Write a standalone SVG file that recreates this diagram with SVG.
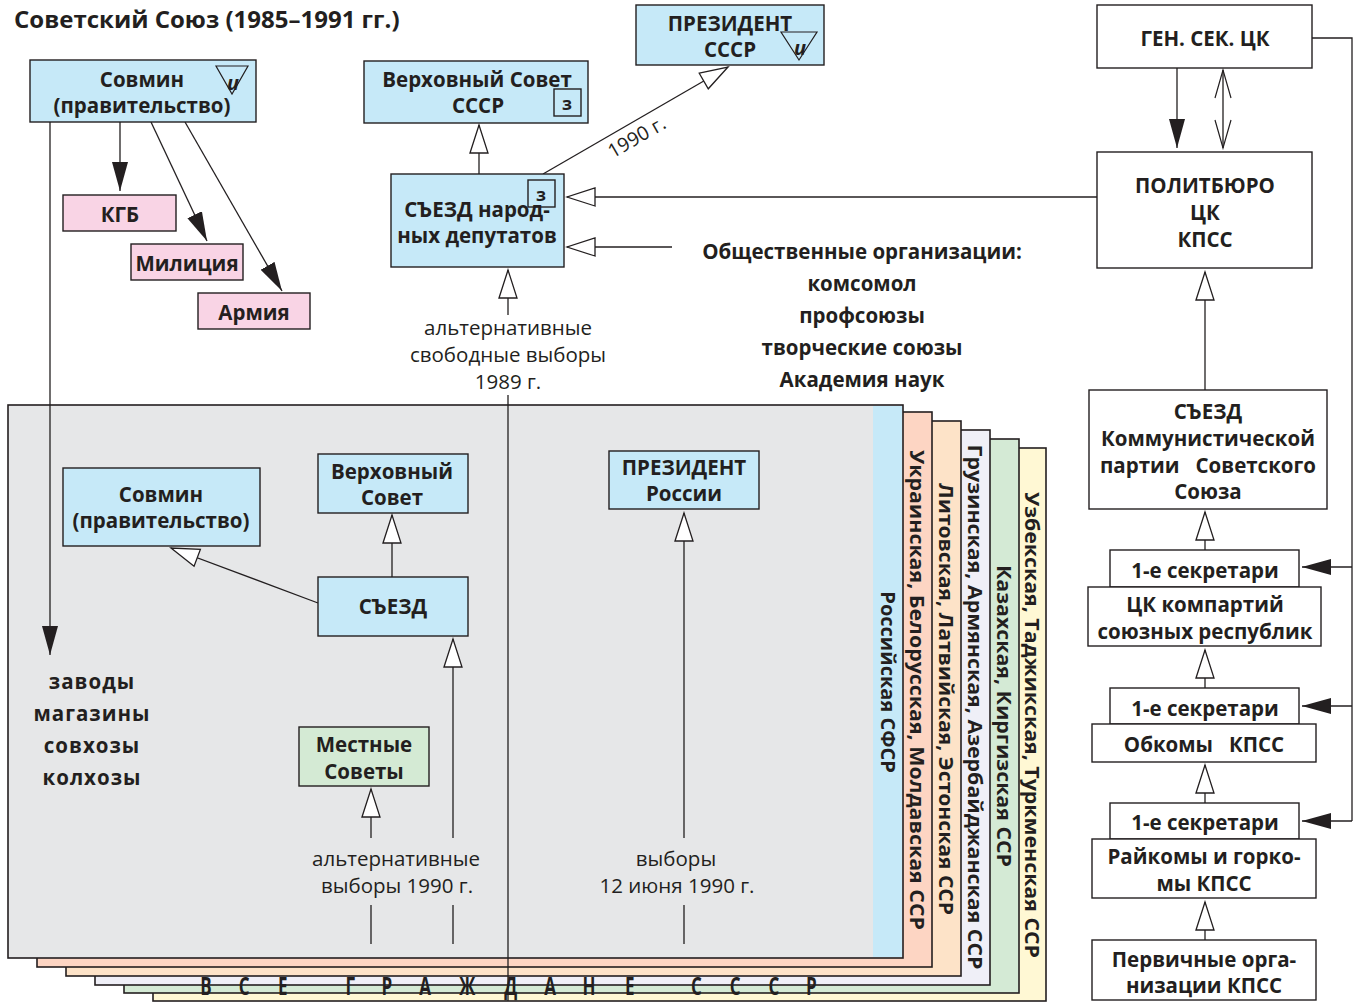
<svg xmlns="http://www.w3.org/2000/svg" width="1353" height="1002" viewBox="0 0 1353 1002">
<style>
.b{font-family:"Open Sans","Noto Sans",sans-serif;font-weight:700;font-size:20.5px;fill:#231f20;text-anchor:middle}
.r{font-family:"Open Sans","Noto Sans",sans-serif;font-weight:400;font-size:20.5px;fill:#231f20;text-anchor:middle}
.v{font-family:"Open Sans","Noto Sans",sans-serif;font-weight:700;font-size:20px;fill:#231f20;text-anchor:middle}
.bx{stroke:#231f20;stroke-width:1.4}
.blue{fill:#c6e9f8}.pink{fill:#f9d4e5}.grn{fill:#d4ead4}.wh{fill:#fff}
.ln{fill:none;stroke:#231f20;stroke-width:1.3}
.ly{stroke:#231f20;stroke-width:1.6}
</style>
<defs>
<marker id="fa" markerUnits="userSpaceOnUse" markerWidth="30" markerHeight="18" viewBox="0 0 30 18" refX="29" refY="9" orient="auto"><path d="M0,1 L29,9 L0,17 z" fill="#231f20"/></marker>
<marker id="oa" markerUnits="userSpaceOnUse" markerWidth="32" markerHeight="22" viewBox="-2 -2 32 22" refX="28" refY="9" orient="auto"><path d="M0,0 L28,9 L0,18 z" fill="#fff" stroke="#231f20" stroke-width="1.3"/></marker>
<marker id="ch" markerUnits="userSpaceOnUse" markerWidth="32" markerHeight="22" viewBox="-2 -2 32 22" refX="28" refY="9" orient="auto-start-reverse"><path d="M0,1 L28,9 L0,17" fill="none" stroke="#231f20" stroke-width="1.2"/></marker>
</defs>
<rect width="1353" height="1002" fill="#fff"/>

<text x="14" y="28" class="b" style="text-anchor:start;font-size:24px">Советский Союз (1985–1991 гг.)</text>

<g id="republics">
<rect x="153" y="448" width="893" height="553" fill="#fff8d4" class="ly"/>
<rect x="124" y="439" width="895" height="554" fill="#d4ead5" class="ly"/>
<rect x="95" y="430" width="895" height="555" fill="#efeff7" class="ly"/>
<rect x="66" y="421" width="895" height="555" fill="#fde3c8" class="ly"/>
<rect x="37" y="412" width="895" height="555" fill="#fdd5c3" class="ly"/>
<rect x="8" y="405" width="895" height="553" fill="#e6e7e8" class="ly"/>
<rect x="873" y="406" width="29" height="551" fill="#c6e9f8"/>
<text class="v" transform="translate(888,682) rotate(90)" dy="0.35em">Российская СФСР</text>
<text class="v" transform="translate(917,690) rotate(90)" dy="0.35em" textLength="480" lengthAdjust="spacingAndGlyphs">Украинская, Белорусская, Молдавская ССР</text>
<text class="v" transform="translate(946,699) rotate(90)" dy="0.35em" textLength="432" lengthAdjust="spacingAndGlyphs">Литовская, Латвийская, Эстонская ССР</text>
<text class="v" transform="translate(975,707) rotate(90)" dy="0.35em" textLength="525" lengthAdjust="spacingAndGlyphs">Грузинская, Армянская, Азербайджанская ССР</text>
<text class="v" transform="translate(1004,716) rotate(90)" dy="0.35em" textLength="302" lengthAdjust="spacingAndGlyphs">Казахская, Киргизская ССР</text>
<text class="v" transform="translate(1032,725) rotate(90)" dy="0.35em" textLength="466" lengthAdjust="spacingAndGlyphs">Узбекская, Таджикская, Туркменская ССР</text>
<text class="v" transform="scale(0.68 1)" style="font-size:25px" y="995" x="303 359 416 515 569 625 687 751 809 866 926 1024 1081 1138 1193">ВСЕГРАЖДАНЕСССР</text>
</g>

<g id="connectors">
<path class="ln" d="M120,122 V191" marker-end="url(#fa)"/>
<path class="ln" d="M151,122 L207,241" marker-end="url(#fa)"/>
<path class="ln" d="M185,122 L282,291" marker-end="url(#fa)"/>
<path class="ln" d="M50,122 V655" marker-end="url(#fa)"/>
<path class="ln" d="M479,174 V125" marker-end="url(#oa)"/>
<path class="ln" d="M543,174 L728,67" marker-end="url(#oa)"/>
<path class="ln" d="M1097,197 H567" marker-end="url(#oa)"/>
<path class="ln" d="M672,247 H567" marker-end="url(#oa)"/>
<path class="ln" d="M508,315 V270" marker-end="url(#oa)"/>
<path class="ln" d="M508,395 V1001"/>
<path class="ln" d="M1177,68 V148" marker-end="url(#fa)"/>
<path class="ln" d="M1223,70 V148" marker-start="url(#ch)" marker-end="url(#ch)"/>
<path class="ln" d="M1312,38 H1352 V821"/>
<path class="ln" d="M1352,567 H1302" marker-end="url(#fa)"/>
<path class="ln" d="M1352,706 H1302" marker-end="url(#fa)"/>
<path class="ln" d="M1352,821 H1302" marker-end="url(#fa)"/>
<path class="ln" d="M1205,390 V272" marker-end="url(#oa)"/>
<path class="ln" d="M1205,550 V512" marker-end="url(#oa)"/>
<path class="ln" d="M1205,688 V650" marker-end="url(#oa)"/>
<path class="ln" d="M1205,803 V765" marker-end="url(#oa)"/>
<path class="ln" d="M1205,940 V902" marker-end="url(#oa)"/>
<path class="ln" d="M392,577 V515" marker-end="url(#oa)"/>
<path class="ln" d="M318,603 L171,548" marker-end="url(#oa)"/>
<path class="ln" d="M453,838 V639" marker-end="url(#oa)"/>
<path class="ln" d="M371,838 V789" marker-end="url(#oa)"/>
<path class="ln" d="M684,838 V513" marker-end="url(#oa)"/>
<path class="ln" d="M371,905 V944 M453,905 V944 M684,905 V944"/>
<text class="r" transform="translate(640,143) rotate(-30)" style="font-size:19.5px">1990 г.</text>
</g>

<g id="sovmin">
<rect x="30" y="60" width="226" height="62" class="bx blue"/>
<text class="b" x="142" y="87">Совмин</text>
<text class="b" x="142" y="113">(правительство)</text>
<path d="M216,66 H248 L232,94 z" fill="none" stroke="#231f20" stroke-width="1.2"/>
<text class="b" x="233" y="90" style="font-style:italic;font-size:20px">и</text>
</g>
<g id="kgb"><rect x="63" y="195" width="113" height="36" class="bx pink"/><text class="b" x="120" y="222">КГБ</text></g>
<g id="militsiya"><rect x="131" y="244" width="112" height="36" class="bx pink"/><text class="b" x="187" y="271">Милиция</text></g>
<g id="armiya"><rect x="198" y="293" width="112" height="36" class="bx pink"/><text class="b" x="254" y="320">Армия</text></g>

<g id="verkhovny-sovet-sssr">
<rect x="364" y="61" width="224" height="62" class="bx blue"/>
<text class="b" x="477" y="87">Верховный Совет</text>
<text class="b" x="478" y="113">СССР</text>
<rect x="554" y="89" width="27" height="27" fill="none" class="bx"/>
<text class="b" x="567" y="110" style="font-size:18px">з</text>
</g>
<g id="prezident-sssr">
<rect x="636" y="5" width="188" height="60" class="bx blue"/>
<text class="b" x="730" y="31">ПРЕЗИДЕНТ</text>
<text class="b" x="730" y="57">СССР</text>
<path d="M781,32 H817 L799,60 z" fill="none" stroke="#231f20" stroke-width="1.2"/>
<text class="b" x="800" y="55" style="font-style:italic;font-size:20px">и</text>
</g>
<g id="sezd-nd">
<rect x="391" y="174" width="173" height="93" class="bx blue"/>
<text class="b" x="477" y="217">СЪЕЗД народ-</text>
<text class="b" x="477" y="243">ных депутатов</text>
<rect x="528" y="180" width="27" height="27" fill="none" class="bx"/>
<text class="b" x="541" y="201" style="font-size:18px">з</text>
</g>
<g id="elections-1989">
<text class="r" x="508" y="335">альтернативные</text>
<text class="r" x="508" y="362">свободные выборы</text>
<text class="r" x="508" y="389">1989 г.</text>
</g>
<g id="obshchestvennye">
<text class="b" x="862" y="259">Общественные организации:</text>
<text class="b" x="862" y="291">комсомол</text>
<text class="b" x="862" y="323">профсоюзы</text>
<text class="b" x="862" y="355">творческие союзы</text>
<text class="b" x="862" y="387">Академия наук</text>
</g>

<g id="gensek"><rect x="1097" y="5" width="215" height="63" class="bx wh"/><text class="b" x="1205" y="46">ГЕН. СЕК. ЦК</text></g>
<g id="politburo"><rect x="1097" y="152" width="215" height="116" class="bx wh"/>
<text class="b" x="1205" y="193">ПОЛИТБЮРО</text><text class="b" x="1205" y="220">ЦК</text><text class="b" x="1205" y="247">КПСС</text></g>
<g id="sezd-kpss"><rect x="1089" y="390" width="238" height="119" class="bx wh"/>
<text class="b" x="1208" y="419">СЪЕЗД</text><text class="b" x="1208" y="446">Коммунистической</text><text class="b" x="1208" y="473" style="white-space:pre">партии   Советского</text><text class="b" x="1208" y="499">Союза</text></g>
<g id="sek1"><rect x="1110" y="550" width="189" height="37" class="bx wh"/><text class="b" x="1205" y="578">1-е секретари</text></g>
<g id="ck-respublik"><rect x="1088" y="587" width="233" height="59" class="bx wh"/><text class="b" x="1205" y="612">ЦК компартий</text><text class="b" x="1205" y="639">союзных республик</text></g>
<g id="sek2"><rect x="1110" y="688" width="189" height="36" class="bx wh"/><text class="b" x="1205" y="716">1-е секретари</text></g>
<g id="obkomy"><rect x="1092" y="724" width="224" height="38" class="bx wh"/><text class="b" x="1204" y="752" style="white-space:pre">Обкомы   КПСС</text></g>
<g id="sek3"><rect x="1110" y="803" width="189" height="36" class="bx wh"/><text class="b" x="1205" y="830">1-е секретари</text></g>
<g id="raikomy"><rect x="1092" y="839" width="224" height="59" class="bx wh"/><text class="b" x="1204" y="864">Райкомы и горко-</text><text class="b" x="1204" y="891">мы КПСС</text></g>
<g id="pervichnye"><rect x="1092" y="940" width="224" height="60" class="bx wh"/><text class="b" x="1204" y="967">Первичные орга-</text><text class="b" x="1204" y="993">низации КПСС</text></g>

<g id="sovmin-rsfsr"><rect x="63" y="468" width="197" height="78" class="bx blue"/><text class="b" x="161" y="502">Совмин</text><text class="b" x="161" y="528">(правительство)</text></g>
<g id="verkhovny-rsfsr"><rect x="318" y="454" width="150" height="59" class="bx blue"/><text class="b" x="392" y="479">Верховный</text><text class="b" x="392" y="505">Совет</text></g>
<g id="sezd-rsfsr"><rect x="318" y="577" width="150" height="59" class="bx blue"/><text class="b" x="393" y="614">СЪЕЗД</text></g>
<g id="prezident-rossii"><rect x="609" y="451" width="150" height="58" class="bx blue"/><text class="b" x="684" y="475">ПРЕЗИДЕНТ</text><text class="b" x="684" y="501">России</text></g>
<g id="mestnye"><rect x="299" y="727" width="130" height="59" class="bx grn"/><text class="b" x="364" y="752">Местные</text><text class="b" x="364" y="779">Советы</text></g>
<g id="predpriyatiya">
<text class="b" x="92" y="689" style="letter-spacing:1px">заводы</text>
<text class="b" x="92" y="721" style="letter-spacing:1px">магазины</text>
<text class="b" x="92" y="753" style="letter-spacing:1px">совхозы</text>
<text class="b" x="92" y="785" style="letter-spacing:1px">колхозы</text>
</g>
<g id="elections-1990">
<text class="r" x="396" y="866">альтернативные</text>
<text class="r" x="397" y="893">выборы 1990 г.</text>
<text class="r" x="676" y="866">выборы</text>
<text class="r" x="677" y="893">12 июня 1990 г.</text>
</g>
</svg>
